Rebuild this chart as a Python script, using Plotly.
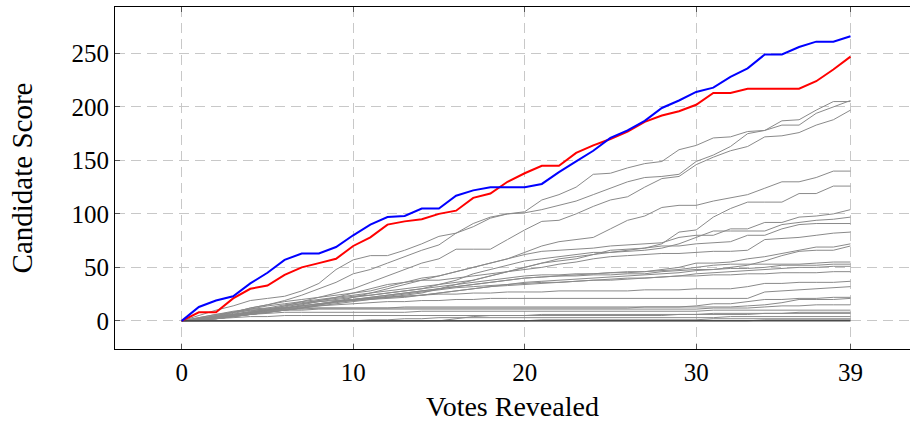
import plotly.graph_objects as go

votes = list(range(40))
x_ticks = [0, 10, 20, 30, 39]
y_ticks = [0, 50, 100, 150, 200, 250]

blue_scores = [0, 13, 19, 23, 35, 45, 57, 63, 63, 69, 80, 90, 97, 98, 105, 105, 117, 122, 125, 125,
               125, 128, 139, 149, 159, 171, 178, 187, 199, 206, 214, 218, 228, 236, 249, 249, 256, 261, 261, 266]
red_scores = [0, 8, 8, 21, 30, 33, 43, 50, 54, 58, 70, 78, 90, 93, 95, 100, 103, 115, 119, 130,
              138, 145, 145, 157, 164, 170, 177, 186, 192, 196, 202, 213, 213, 217, 217, 217, 217, 224, 235, 247]

gray_scores = [
    [0, 5, 10, 14, 19, 21, 23, 28, 35, 48, 57, 61, 61, 66, 72, 79, 82, 91, 97, 100,
     102, 113, 118, 125, 137, 138, 143, 147, 149, 160, 164, 171, 172, 177, 178, 187, 188, 197, 205, 205],
    [0, 3, 6, 8, 12, 15, 19, 24, 30, 36, 44, 48, 54, 60, 66, 71, 82, 88, 96, 100,
     101, 104, 108, 112, 118, 124, 130, 134, 135, 137, 149, 155, 163, 175, 178, 183, 183, 194, 200, 206],
    [0, 1, 3, 5, 8, 10, 14, 18, 22, 26, 30, 36, 42, 48, 54, 58, 67, 67, 67, 76,
     85, 93, 94, 100, 107, 113, 116, 125, 133, 135, 146, 153, 159, 163, 172, 173, 176, 183, 188, 197],
    [0, 1, 2, 4, 6, 8, 10, 12, 15, 18, 22, 26, 30, 34, 38, 42, 46, 50, 54, 58,
     64, 70, 74, 76, 78, 86, 94, 98, 106, 108, 108, 112, 115, 118, 124, 130, 130, 134, 140, 140],
    [0, 0, 2, 4, 6, 8, 10, 12, 14, 16, 18, 20, 22, 24, 26, 30, 34, 38, 42, 46,
     50, 54, 56, 58, 62, 64, 66, 68, 72, 83, 85, 97, 105, 111, 111, 111, 119, 119, 126, 126],
    [0, 2, 4, 8, 12, 15, 18, 20, 22, 24, 26, 28, 32, 36, 40, 42, 46, 50, 54, 58,
     62, 65, 66, 67, 68, 70, 71, 72, 73, 78, 80, 80, 86, 86, 92, 92, 97, 98, 100, 104],
    [0, 1, 3, 6, 9, 12, 15, 17, 19, 21, 23, 24, 26, 28, 30, 34, 38, 44, 48, 52,
     56, 58, 60, 62, 64, 64, 65, 66, 68, 72, 78, 84, 84, 84, 84, 90, 92, 94, 95, 97],
    [0, 2, 5, 8, 11, 14, 16, 18, 20, 22, 24, 26, 28, 30, 32, 34, 36, 38, 42, 46,
     50, 54, 58, 60, 62, 66, 67, 68, 70, 70, 72, 73, 74, 80, 80, 86, 90, 91, 91, 91],
    [0, 1, 2, 4, 7, 10, 13, 16, 19, 22, 26, 30, 34, 36, 38, 38, 40, 42, 44, 46,
     48, 50, 53, 55, 58, 60, 61, 62, 63, 63, 64, 65, 65, 66, 76, 77, 78, 80, 82, 83],
    [0, 1, 3, 5, 7, 9, 12, 15, 18, 20, 22, 24, 26, 28, 30, 32, 34, 36, 38, 40,
     42, 43, 43, 44, 44, 45, 45, 46, 48, 50, 54, 54, 55, 58, 60, 63, 66, 69, 69, 72],
    [0, 2, 4, 6, 8, 10, 12, 14, 16, 18, 20, 22, 24, 26, 28, 30, 32, 34, 36, 38,
     40, 41, 42, 42, 43, 43, 44, 44, 46, 47, 48, 48, 50, 52, 56, 61, 65, 66, 66, 70],
    [0, 1, 2, 4, 6, 8, 10, 12, 15, 18, 20, 22, 24, 26, 28, 30, 32, 34, 36, 38,
     40, 41, 42, 43, 44, 45, 46, 46, 47, 48, 50, 52, 53, 53, 53, 53, 53, 54, 55, 55],
    [0, 2, 4, 6, 8, 10, 12, 14, 16, 18, 19, 20, 21, 22, 24, 26, 28, 30, 32, 34,
     36, 37, 38, 39, 40, 41, 42, 43, 44, 45, 47, 48, 49, 49, 50, 52, 52, 52, 53, 53],
    [0, 1, 3, 5, 7, 9, 11, 13, 15, 17, 19, 21, 23, 25, 27, 29, 31, 32, 33, 34,
     35, 36, 36, 37, 38, 38, 39, 40, 41, 42, 44, 45, 46, 47, 48, 49, 50, 50, 51, 51],
    [0, 2, 4, 6, 8, 10, 12, 14, 16, 18, 20, 21, 22, 23, 24, 26, 28, 30, 32, 33,
     34, 35, 36, 37, 38, 39, 40, 40, 41, 42, 42, 43, 43, 44, 44, 45, 45, 45, 46, 46],
    [0, 1, 3, 5, 8, 11, 14, 16, 18, 19, 20, 21, 22, 23, 24, 25, 25, 26, 26, 27,
     27, 27, 28, 28, 28, 28, 28, 29, 29, 29, 30, 30, 30, 32, 35, 35, 36, 36, 36, 37],
    [0, 1, 2, 4, 6, 8, 10, 12, 14, 15, 16, 17, 18, 18, 19, 19, 20, 20, 21, 21,
     21, 21, 21, 21, 21, 21, 21, 21, 21, 21, 21, 21, 21, 21, 27, 28, 29, 30, 31, 32],
    [0, 3, 6, 9, 11, 12, 12, 12, 12, 12, 12, 12, 12, 13, 13, 13, 13, 13, 13, 13,
     13, 13, 13, 13, 13, 13, 13, 13, 13, 13, 14, 16, 16, 18, 20, 20, 21, 21, 22, 22],
    [0, 2, 5, 8, 10, 11, 11, 11, 12, 12, 12, 12, 12, 12, 12, 12, 12, 12, 12, 12,
     12, 12, 12, 12, 12, 12, 12, 13, 13, 13, 13, 13, 13, 14, 15, 17, 20, 20, 20, 21],
    [0, 2, 4, 7, 10, 10, 10, 10, 11, 11, 11, 11, 11, 11, 11, 11, 11, 11, 11, 11,
     11, 11, 11, 11, 11, 11, 11, 11, 11, 11, 11, 12, 12, 12, 13, 14, 14, 15, 15, 15],
    [0, 1, 3, 5, 6, 7, 8, 8, 8, 8, 8, 8, 8, 8, 9, 9, 9, 9, 9, 9,
     9, 9, 9, 9, 9, 9, 9, 9, 9, 9, 9, 10, 10, 10, 10, 10, 10, 10, 10, 10],
    [0, 1, 2, 3, 4, 4, 5, 5, 5, 5, 5, 5, 5, 5, 5, 5, 5, 5, 5, 5,
     5, 5, 5, 5, 5, 5, 5, 5, 5, 6, 6, 6, 6, 6, 7, 7, 7, 7, 7, 7],
    [0, 0, 0, 0, 0, 0, 0, 0, 0, 0, 0, 1, 1, 2, 2, 3, 3, 3, 3, 3,
     3, 3, 3, 3, 3, 3, 3, 3, 3, 3, 3, 3, 4, 4, 4, 4, 4, 4, 4, 4],
    [0, 0, 0, 0, 0, 0, 0, 0, 0, 0, 0, 0, 0, 0, 0, 0, 2, 4, 5, 5,
     5, 6, 6, 6, 6, 6, 6, 6, 6, 6, 6, 7, 7, 7, 7, 7, 8, 8, 8, 8],
    [0, 0, 0, 0, 0, 0, 0, 0, 0, 0, 0, 0, 0, 0, 0, 0, 0, 0, 0, 0,
     0, 1, 1, 1, 1, 1, 1, 1, 1, 1, 1, 2, 2, 2, 2, 2, 2, 2, 2, 2],
    [0, 0, 0, 0, 0, 0, 0, 0, 0, 0, 0, 0, 0, 0, 0, 0, 0, 0, 0, 0,
     0, 0, 0, 0, 0, 0, 0, 0, 0, 0, 0, 0, 0, 0, 1, 1, 1, 1, 1, 1],
]
zero_scores = [0] * 40  # several candidates never scored

fig = go.Figure()
for s in gray_scores:
    fig.add_trace(go.Scatter(x=votes, y=s, mode="lines",
                             line=dict(color="#8a8a8a", width=1), showlegend=False, hoverinfo="skip"))
fig.add_trace(go.Scatter(x=votes, y=zero_scores, mode="lines",
                         line=dict(color="#4a4a4a", width=1.5), showlegend=False, hoverinfo="skip"))
fig.add_trace(go.Scatter(x=votes, y=red_scores, mode="lines",
                         line=dict(color="#ff0000", width=2), showlegend=False))
fig.add_trace(go.Scatter(x=votes, y=blue_scores, mode="lines",
                         line=dict(color="#0000ff", width=2), showlegend=False))

font_family = "Liberation Serif, DejaVu Serif, serif"
fig.update_layout(
    width=910, height=422,
    margin=dict(l=115, r=0, t=7, b=73, pad=0),
    paper_bgcolor="white", plot_bgcolor="white",
    font=dict(family=font_family, size=25, color="black"),
    showlegend=False,
)
fig.update_xaxes(
    range=[-3.89, 42.47], tickmode="array", tickvals=x_ticks,
    ticks="inside", ticklen=5, tickcolor="#555555",
    showline=True, linecolor="black", linewidth=1, mirror="allticks",
    showgrid=True, gridcolor="#c8c8c8", griddash="10px,6px", gridwidth=1,
    zeroline=False, ticklabelstandoff=1,
    title=dict(text="Votes Revealed", standoff=15, font=dict(size=28)),
)
fig.update_yaxes(
    range=[-26.3, 293.4], tickmode="array", tickvals=y_ticks,
    ticks="inside", ticklen=5, tickcolor="#555555",
    showline=True, linecolor="black", linewidth=1,
    showgrid=True, gridcolor="#c8c8c8", griddash="10px,6px", gridwidth=1,
    zeroline=False, ticklabelstandoff=0,
    title=dict(text="Candidate Score", standoff=30, font=dict(size=29)),
)
fig.write_html(
    "out.html",
    config={"displayModeBar": False},
    post_script="document.body.style.margin='0';document.body.style.overflow='hidden';",
)
